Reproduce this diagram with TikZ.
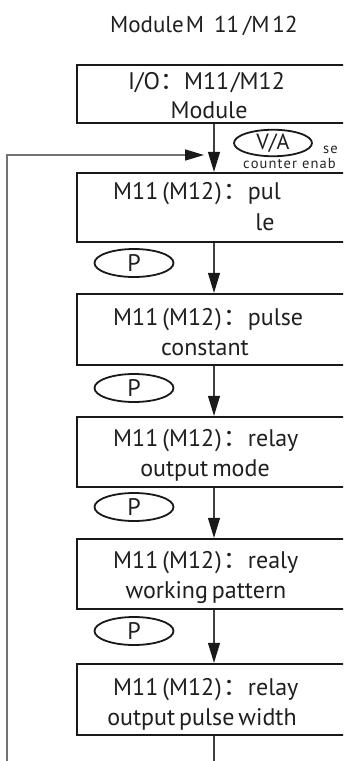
\documentclass[tikz,border=0pt]{standalone}
\usepackage{fontspec}
\setmainfont{PT Sans}
\newfontfamily\cjk{Noto Sans CJK SC}
\usetikzlibrary{arrows.meta,shapes.geometric}
\newcommand{\mm}{M11\hspace{4pt}(M12\hspace{1pt})\hspace{2pt}{\cjk ：}}
\newcommand{\ls}{\hspace{1.1pt}}
\begin{document}
\begin{tikzpicture}[x=1pt,y=-1pt,
  box/.style={draw=black!90,line width=2.3pt,minimum width=274pt,inner sep=0pt},
  lbl/.style={inner sep=0pt,text=black!88,font=\fontsize{24}{28}\selectfont},
  lw/.style={lbl,anchor=base west},
  oval/.style={draw=black!90,line width=1.8pt,ellipse,minimum width=79pt,minimum height=28pt,inner sep=0pt,font=\fontsize{24}{28}\selectfont,text=black!88},
  small/.style={inner sep=0pt,text=black!85,font=\fontsize{14.5}{16}\selectfont,anchor=base west},
  conn/.style={draw=black!75,line width=1.1pt,-{Triangle[length=20pt,width=12pt,color=black!90]}},
  plain/.style={draw=black!75,line width=1.1pt},
  fb/.style={draw=black!55,line width=1.4pt,-{Triangle[length=19pt,width=11pt,color=black!90]}}
]
\useasboundingbox (0,0) rectangle (343,761);
\clip (0,0) rectangle (343,761);
\fill[white] (0,0) rectangle (343,761);

% title
\node[lw,font=\fontsize{23}{27}\selectfont] (title) at (110,32) {Module\hspace{2pt}M\hspace{10pt}11\hspace{4pt}/M\hspace{3pt}12};

% boxes (right side cut off by the frame)
\node[box,minimum height=58pt] (b1) at (214,94) {};
\node[box,minimum height=69pt] (b2) at (214,207.5) {};
\node[box,minimum height=71pt] (b3) at (214,329.5) {};
\node[box,minimum height=70pt] (b4) at (214,452) {};
\node[box,minimum height=70pt] (b5) at (214,574) {};
\node[box,minimum height=71pt] (b6) at (214,699.5) {};

% box texts
\node[lw] (t1a) at (128,89) {I/O{\cjk ：}M11\hspace{2pt}/M12};
\node[lbl,anchor=base] (t1b) at (209,118) {Module};
\node[lw] (t2a) at (113,199) {\mm pul};
\node[lbl,anchor=base] (t2b) at (265,230) {le};
\node[lw] (t3a) at (113,325) {\mm pulse};
\node[lbl,anchor=base] (t3b) at (205,355) {constant};
\node[lw] (t4a) at (113,446) {\mm relay};
\node[lbl,anchor=base] (t4b) at (205,476) {output\,mode};
\node[lw] (t5a) at (113,568) {\mm realy};
\node[lbl,anchor=base] (t5b) at (206,598) {working\,pattern};
\node[lw] (t6a) at (113,695) {\mm relay};
\node[lbl,anchor=base] (t6b) at (202,725) {output\,pulse\,width};

% ovals
\node[oval,minimum width=78pt,minimum height=21pt,font=\fontsize{22}{25}\selectfont] (va) at (273,143) {V/A};
\node[small] (se) at (323,153) {s\ls e};
\node[small] (ce) at (243,168) {c\ls o\ls u\ls n\ls t\ls e\ls r\hspace{5pt}e\ls n\ls a\ls b};
\node[oval] (p1) at (134,263) {P};
\node[oval] (p2) at (134,388) {P};
\node[oval] (p3) at (134,507) {P};
\node[oval] (p4) at (134,631) {P};

% connectors
\draw[conn] (b1) -- (b2);
\draw[conn] (b2) -- (b3);
\draw[conn] (b3) -- (b4);
\draw[conn] (b4) -- (b5);
\draw[conn] (b5) -- (b6);
\coordinate (bend) at (214,770);
\draw[plain] (b6) -- (bend);

% feedback loop
\coordinate (fbstart) at (7,770);
\coordinate (fbend) at (204,155);
\draw[fb] (fbstart) |- (fbend);
\end{tikzpicture}
\end{document}
